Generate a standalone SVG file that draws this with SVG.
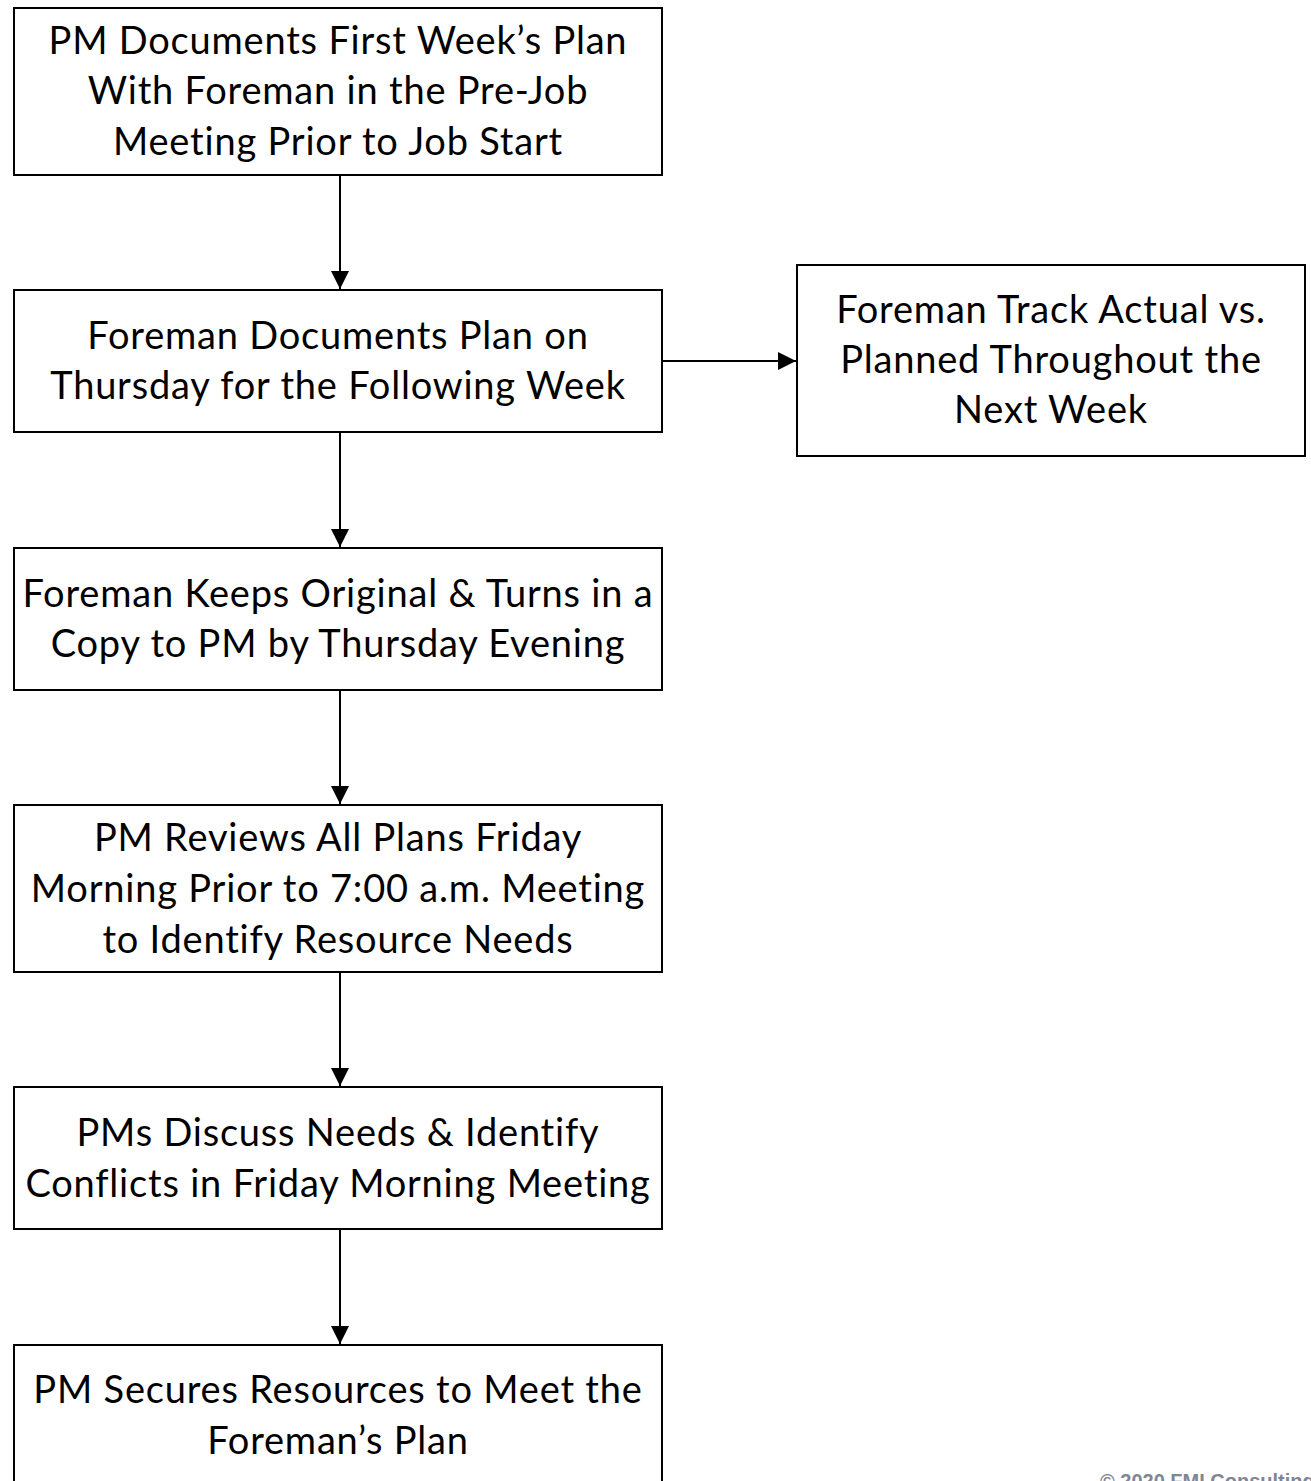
<svg xmlns="http://www.w3.org/2000/svg" width="1311" height="1481" viewBox="0 0 1311 1481">
<style>
.box{fill:#fff;stroke:#000;stroke-width:2}
.t{font-family:Lato,"Open Sans",sans-serif;font-size:38px;letter-spacing:0.8px;fill:#000;text-anchor:middle}
.c{stroke:#000;stroke-width:2;fill:none}
.cp{font-family:"Liberation Sans",Arial,sans-serif;font-size:20px;font-weight:bold;fill:#7f8796}
</style>
<defs>
<marker id="ah" markerWidth="18" markerHeight="18" refX="18" refY="9" orient="auto" markerUnits="userSpaceOnUse">
<path d="M0,0 L18,9 L0,18 Z" fill="#000"/>
</marker>
</defs>
<rect width="1311" height="1481" fill="#fff"/>
<g id="n1"><rect class="box" x="14" y="8" width="648" height="167"/>
<text class="t" x="338" y="54">PM Documents First Week’s Plan</text>
<text class="t" x="338" y="104">With Foreman in the Pre-Job</text>
<text class="t" x="338" y="155">Meeting Prior to Job Start</text></g>
<g id="n2"><rect class="box" x="14" y="290" width="648" height="142"/>
<text class="t" x="338" y="349">Foreman Documents Plan on</text>
<text class="t" x="338" y="399">Thursday for the Following Week</text></g>
<g id="n3"><rect class="box" x="797" y="265" width="508" height="191"/>
<text class="t" x="1051" y="323">Foreman Track Actual vs.</text>
<text class="t" x="1051" y="373">Planned Throughout the</text>
<text class="t" x="1051" y="423">Next Week</text></g>
<g id="n4"><rect class="box" x="14" y="548" width="648" height="142"/>
<text class="t" x="338" y="607">Foreman Keeps Original &amp; Turns in a</text>
<text class="t" x="338" y="657">Copy to PM by Thursday Evening</text></g>
<g id="n5"><rect class="box" x="14" y="805" width="648" height="167"/>
<text class="t" x="338" y="851">PM Reviews All Plans Friday</text>
<text class="t" x="338" y="902">Morning Prior to 7:00 a.m. Meeting</text>
<text class="t" x="338" y="953">to Identify Resource Needs</text></g>
<g id="n6"><rect class="box" x="14" y="1087" width="648" height="142"/>
<text class="t" x="338" y="1146">PMs Discuss Needs &amp; Identify</text>
<text class="t" x="338" y="1197">Conflicts in Friday Morning Meeting</text></g>
<g id="n7"><rect class="box" x="14" y="1345" width="648" height="150"/>
<text class="t" x="338" y="1403">PM Secures Resources to Meet the</text>
<text class="t" x="338" y="1454">Foreman’s Plan</text></g>
<g id="connectors">
<line class="c" x1="340" y1="175" x2="340" y2="289" marker-end="url(#ah)"/>
<line class="c" x1="340" y1="432" x2="340" y2="547" marker-end="url(#ah)"/>
<line class="c" x1="340" y1="690" x2="340" y2="804" marker-end="url(#ah)"/>
<line class="c" x1="340" y1="972" x2="340" y2="1086" marker-end="url(#ah)"/>
<line class="c" x1="340" y1="1229" x2="340" y2="1344" marker-end="url(#ah)"/>
<line class="c" x1="662" y1="361" x2="796" y2="361" marker-end="url(#ah)"/>
</g>
<text class="cp" x="1100" y="1488">© 2020 FMI Consulting</text>
</svg>
